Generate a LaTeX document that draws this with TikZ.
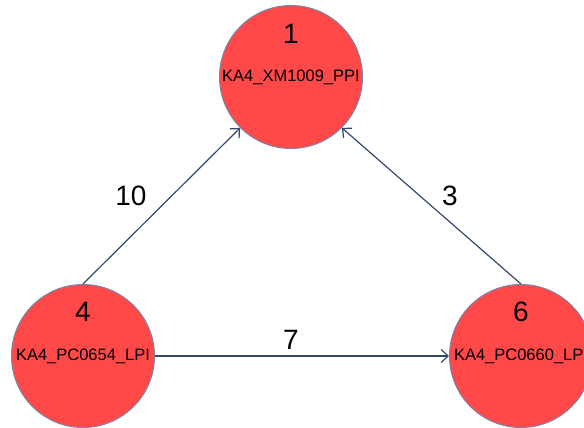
\documentclass[tikz,border=0pt]{standalone}
\usepackage{fontspec}
\setmainfont{Liberation Sans}
\usetikzlibrary{arrows.meta}
\definecolor{nodefill}{HTML}{FF4848}
\definecolor{nodeline}{HTML}{7A86A8}
\definecolor{edgecol}{HTML}{34496A}
\tikzset{
  vertex/.style={circle, fill=nodefill, draw=nodeline, line width=1pt, minimum size=143pt, inner sep=0pt, font=\fontsize{16.5}{18}\selectfont},
  numlabel/.style={font=\fontsize{28}{30}\selectfont, inner sep=0pt},
  edgelabel/.style={font=\fontsize{28}{30}\selectfont, inner sep=0pt},
  edge/.style={draw=edgecol, line width=1.2pt, -{Straight Barb[length=7pt,width=13pt,line width=1.2pt]}}
}
\begin{document}
\begin{tikzpicture}[x=1pt,y=-1pt]
\useasboundingbox (0,0) rectangle (584,428);
\clip (0,0) rectangle (584,428);
\node[vertex] (n1) at (291,77) {KA4\_XM1009\_PPI};
\node[vertex] (n4) at (83,356) {KA4\_PC0654\_LPI};
\node[vertex] (n6) at (521,356) {KA4\_PC0660\_LPI};
\node[numlabel] (t1) at (291,34) {1};
\node[numlabel] (t4) at (83,312) {4};
\node[numlabel] (t6) at (521,312) {6};
\draw[edge] (n4.north) -- (n1.south west);
\draw[edge] (n6.north) -- (n1.south east);
\draw[edge] (n4.east) -- (n6.west);
\node[edgelabel] (l10) at (131,196) {10};
\node[edgelabel] (l3) at (450,196) {3};
\node[edgelabel] (l7) at (291,340) {7};
\end{tikzpicture}
\end{document}
